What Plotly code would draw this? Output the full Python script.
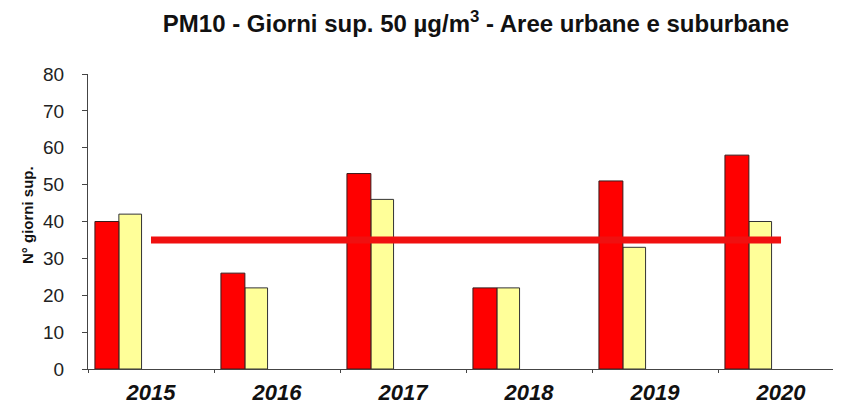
import plotly.graph_objects as go

# ======================================================================================================
# Data
# ======================================================================================================

years = ["2015", "2016", "2017", "2018", "2019", "2020"]
red_days = [40, 26, 53, 22, 51, 58]
yellow_days = [42, 22, 46, 22, 33, 40]
limit_days = [35, 35, 35, 35, 35, 35]
y_ticks = [0, 10, 20, 30, 40, 50, 60, 70, 80]

# ======================================================================================================
# Plot
# ======================================================================================================

# page body has an 8px margin, so the figure is sized to end at the window edge
W, H = 833, 397
L, T, B = 80, 66, 36
plot_h = H - T - B

fig = go.Figure()
# yellow first, then the limit line, then red on top
fig.add_trace(go.Bar(x=years, y=yellow_days, offset=-0.255, width=0.18,
                     marker=dict(color="#FFFF99", line=dict(color="#333333", width=1))))
fig.add_trace(go.Scatter(x=years, y=limit_days, mode="lines",
                         line=dict(color="#F01010", width=7)))
fig.add_trace(go.Bar(x=years, y=red_days, offset=-0.445, width=0.19,
                     marker=dict(color="#FF0000", line=dict(color="#3a1a1a", width=1))))

fig.update_layout(
    width=W, height=H,
    barmode="overlay",
    showlegend=False,
    plot_bgcolor="white",
    paper_bgcolor="white",
    margin=dict(l=L, r=0, t=T, b=B),
    font=dict(family="Liberation Sans, Arial", color="black"),
    title=dict(text="<b>PM10 - Giorni sup. 50 µg/m<sup>3</sup> - Aree urbane e suburbane</b>",
               x=468 / W, xanchor="center", y=1 - 16 / H, yanchor="middle",
               font=dict(size=24, color="#111111")),
    annotations=[dict(text="<b>N° giorni sup.</b>", textangle=-90,
                      xref="paper", yref="paper", x=(19 - L) / (W - L), y=(T + plot_h - 207) / plot_h,
                      xanchor="center", yanchor="middle", showarrow=False,
                      font=dict(size=15, color="#111111"))],
)
fig.update_yaxes(range=[0, 80], tickvals=y_ticks, showgrid=False, zeroline=False,
                 showline=True, linecolor="#444444", linewidth=1, automargin=False,
                 ticks="outside", ticklen=5, tickcolor="#444444",
                 tickfont=dict(size=19, color="#222222"), ticklabelstandoff=14)
fig.update_xaxes(range=[-0.5, 5.476], showgrid=False, showline=True, automargin=False,
                 linecolor="#444444", linewidth=1,
                 ticks="outside", ticklen=3, tickcolor="#444444", tickson="boundaries",
                 tickfont=dict(size=22, color="#111111"), ticklabelstandoff=4,
                 tickvals=years, ticktext=["<b><i>%s</i></b>" % y for y in years])

fig.write_html("out.html")
